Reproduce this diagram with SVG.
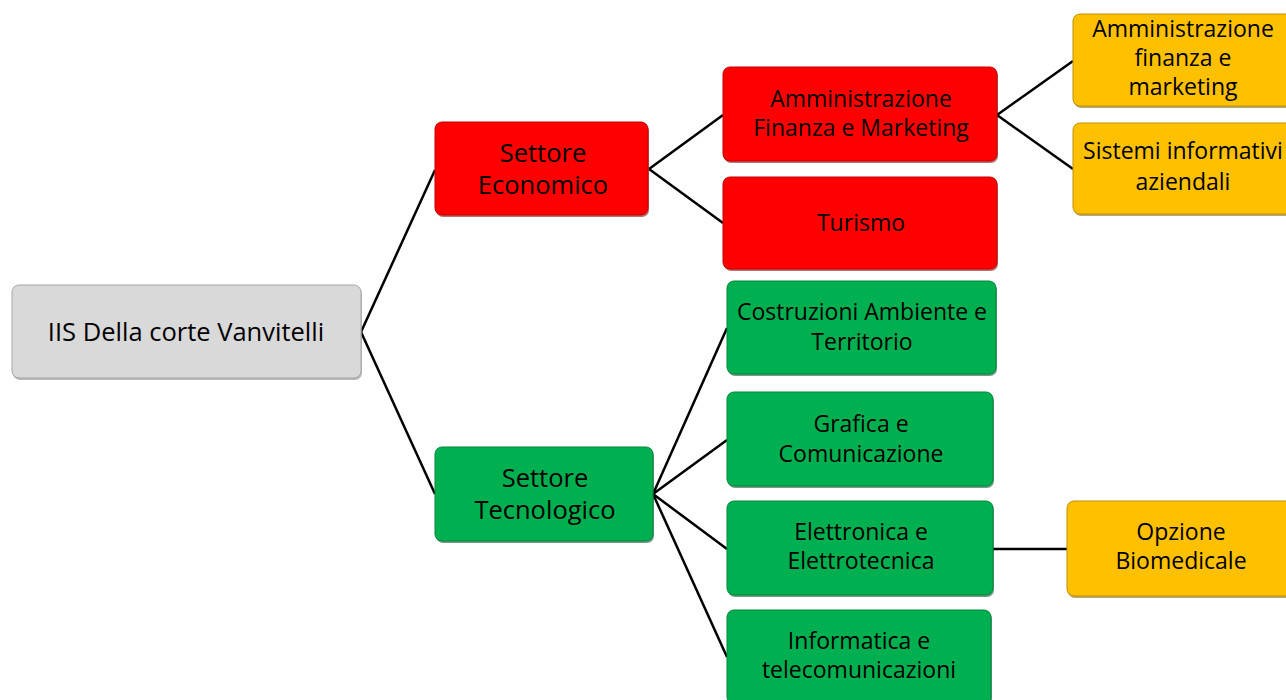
<svg xmlns="http://www.w3.org/2000/svg" width="1286" height="700" viewBox="0 0 1286 700">
<defs>
<style>
text{font-family:"Open Sans","Noto Sans","Liberation Sans",sans-serif;fill:#000;text-anchor:middle;font-size:23px;font-variant-ligatures:none}
.big{font-size:25.5px}
.conn line{stroke:#000;stroke-width:2.5;fill:none}
.shadow{opacity:0.55}
.gray{fill:#d9d9d9;stroke:#a6a6a6;stroke-width:1}
.red{fill:#ff0000;stroke:#c00000;stroke-width:1}
.green{fill:#00b050;stroke:#00853c;stroke-width:1}
.yellow{fill:#ffc000;stroke:#bf9000;stroke-width:1}
</style>
</defs>
<rect width="1286" height="700" fill="#fff"/>
<g class="conn" id="connectors">
<line x1="361" y1="332" x2="435" y2="170"/>
<line x1="361" y1="332" x2="435" y2="494"/>
<line x1="649" y1="169" x2="723" y2="115"/>
<line x1="649" y1="169" x2="723" y2="223"/>
<line x1="997" y1="115" x2="1073" y2="61"/>
<line x1="997" y1="115" x2="1073" y2="169"/>
<line x1="653" y1="494" x2="727" y2="328"/>
<line x1="653" y1="494" x2="727" y2="440"/>
<line x1="653" y1="494" x2="727" y2="549"/>
<line x1="653" y1="494" x2="727" y2="657"/>
<line x1="993" y1="549" x2="1067" y2="549"/>
</g>
<g id="root">
<rect x="13" y="287" width="349" height="93" rx="7" fill="#7f7f7f" class="shadow"/>
<rect x="12" y="285" width="349" height="93" rx="7" class="gray"/>
<text class="big" x="186" y="341">IIS Della corte Vanvitelli</text>
</g>
<g id="settore-economico">
<rect x="436" y="124" width="213" height="93" rx="7" fill="#7f0000" class="shadow"/>
<rect x="435" y="122" width="213" height="93" rx="7" class="red"/>
<text class="big" x="543" y="162">Settore<tspan x="543" dy="32">Economico</tspan></text>
</g>
<g id="afm">
<rect x="724" y="69" width="274" height="94" rx="7" fill="#7f0000" class="shadow"/>
<rect x="723" y="67" width="274" height="94" rx="7" class="red"/>
<text x="861" y="106.5">Amministrazione<tspan x="861" dy="29.5">Finanza e Marketing</tspan></text>
</g>
<g id="turismo">
<rect x="724" y="179" width="274" height="92" rx="7" fill="#7f0000" class="shadow"/>
<rect x="723" y="177" width="274" height="92" rx="7" class="red"/>
<text x="861" y="231">Turismo</text>
</g>
<g id="afm-articolazione">
<rect x="1074" y="16" width="220" height="92" rx="7" fill="#7f6000" class="shadow"/>
<rect x="1073" y="14" width="220" height="92" rx="7" class="yellow"/>
<text x="1183" y="37">Amministrazione<tspan x="1183" dy="29">finanza e</tspan><tspan x="1183" dy="29">marketing</tspan></text>
</g>
<g id="sia">
<rect x="1074" y="125" width="220" height="91" rx="7" fill="#7f6000" class="shadow"/>
<rect x="1073" y="123" width="220" height="91" rx="7" class="yellow"/>
<text x="1183" y="159">Sistemi informativi<tspan x="1183" dy="31">aziendali</tspan></text>
</g>
<g id="settore-tecnologico">
<rect x="436" y="449" width="218" height="94" rx="7" fill="#004d22" class="shadow"/>
<rect x="435" y="447" width="218" height="94" rx="7" class="green"/>
<text class="big" x="545" y="487">Settore<tspan x="545" dy="32">Tecnologico</tspan></text>
</g>
<g id="cat">
<rect x="728" y="283" width="269" height="93" rx="7" fill="#004d22" class="shadow"/>
<rect x="727" y="281" width="269" height="93" rx="7" class="green"/>
<text x="862" y="320">Costruzioni Ambiente e<tspan x="862" dy="29.5">Territorio</tspan></text>
</g>
<g id="grafica">
<rect x="728" y="394" width="266" height="94" rx="7" fill="#004d22" class="shadow"/>
<rect x="727" y="392" width="266" height="94" rx="7" class="green"/>
<text x="861" y="432">Grafica e<tspan x="861" dy="29.5">Comunicazione</tspan></text>
</g>
<g id="elettronica">
<rect x="728" y="503" width="266" height="94" rx="7" fill="#004d22" class="shadow"/>
<rect x="727" y="501" width="266" height="94" rx="7" class="green"/>
<text x="861" y="539.5">Elettronica e<tspan x="861" dy="29.5">Elettrotecnica</tspan></text>
</g>
<g id="informatica">
<rect x="728" y="612" width="264" height="94" rx="7" fill="#004d22" class="shadow"/>
<rect x="727" y="610" width="264" height="94" rx="7" class="green"/>
<text x="859" y="648.5">Informatica e<tspan x="859" dy="29.5">telecomunicazioni</tspan></text>
</g>
<g id="biomedicale">
<rect x="1068" y="503" width="226" height="95" rx="7" fill="#7f6000" class="shadow"/>
<rect x="1067" y="501" width="226" height="95" rx="7" class="yellow"/>
<text x="1181" y="539.5">Opzione<tspan x="1181" dy="29.5">Biomedicale</tspan></text>
</g>
</svg>
